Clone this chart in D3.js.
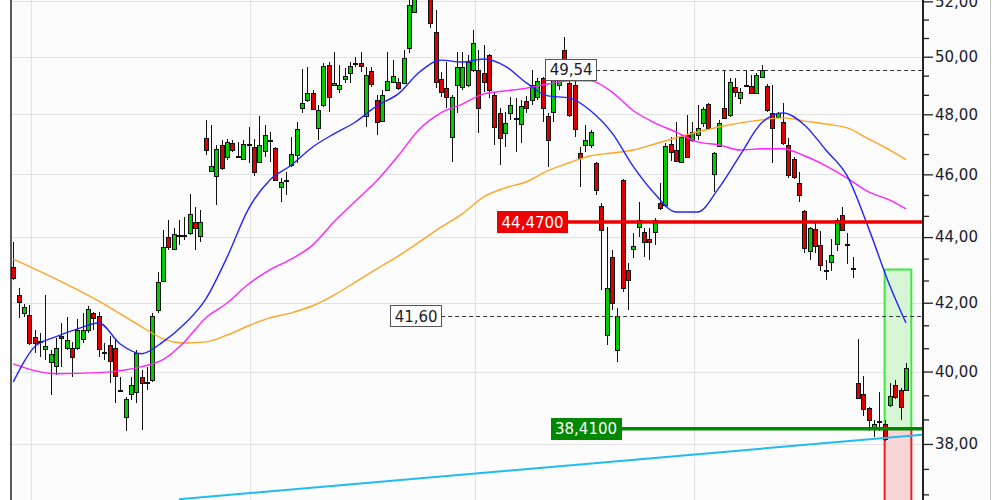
<!DOCTYPE html>
<html><head><meta charset="utf-8">
<script src="https://cdn.jsdelivr.net/npm/d3@7"></script>
<style>html,body{margin:0;padding:0;background:#fff;}svg{display:block;}</style>
</head><body>
<svg id="chart" width="1000" height="500"></svg>
<script>
// ---------- DATA ----------
const opens = [
43.08,42.23,41.69,41.64,41.00,40.89,40.65,40.28,40.16,41.03,
40.68,40.68,40.68,40.94,41.20,41.70,41.61,40.56,40.77,40.68,
39.49,38.74,39.38,39.43,39.85,39.71,39.77,41.79,42.65,44.00,
43.63,44.06,44.06,44.12,44.48,44.03,47.21,46.12,45.95,46.97,
46.57,47.04,46.61,46.51,47.00,46.90,46.41,46.77,47.14,46.87,
45.60,45.82,46.32,46.64,48.22,48.49,48.73,47.54,48.32,49.70,
49.01,48.87,49.22,49.43,49.78,49.78,47.94,49.49,48.49,47.77,
48.83,49.11,49.11,49.08,50.31,51.61,52.40,52.80,52.40,50.88,
49.22,48.90,47.24,49.01,48.94,49.01,49.53,49.53,49.43,50.06,
48.66,48.05,47.37,48.05,47.88,47.67,48.46,48.49,48.59,49.25,
47.94,48.08,49.01,50.24,49.08,49.01,46.70,46.97,46.97,46.38,
44.98,41.05,43.38,40.62,45.82,42.99,43.63,44.31,44.16,43.94,
44.16,45.08,45.01,47.00,46.80,46.41,47.30,47.14,47.30,47.71,
48.35,46.02,46.93,48.22,47.98,48.94,48.56,49.01,48.97,48.73,
49.29,48.97,48.05,47.91,47.74,46.97,46.51,45.72,44.83,43.57,
44.25,43.75,42.99,43.23,43.78,44.70,43.78,43.05,39.69,39.38,
38.99,38.45,38.63,38.53,39.07,39.63,39.49,39.49];
const highs = [
43.86,42.44,41.96,41.94,41.20,41.11,42.23,40.62,40.97,41.40,
41.58,40.85,41.52,41.70,41.91,41.73,41.73,40.82,41.03,40.91,
39.85,39.29,39.85,40.62,40.05,40.14,41.70,42.93,44.22,44.54,
44.28,44.54,44.64,45.37,44.95,44.86,47.81,47.64,46.97,47.14,
47.17,47.14,47.07,47.14,47.57,47.17,47.94,47.64,47.40,46.90,
45.88,46.09,47.24,47.74,49.56,49.63,48.83,48.32,49.78,49.81,
50.17,49.70,49.60,49.81,49.99,50.17,49.63,49.63,48.66,48.83,
50.17,49.88,49.25,50.24,52.10,52.50,53.10,53.20,52.60,51.68,
49.46,49.81,48.66,50.17,50.17,50.06,50.95,50.24,50.42,50.10,
48.76,48.22,48.08,48.59,48.56,48.49,48.63,49.53,49.25,49.29,
48.05,49.46,49.53,50.70,49.25,49.18,46.90,47.64,47.47,46.41,
45.08,44.31,43.60,41.85,45.85,43.20,44.12,45.11,44.28,44.28,
44.61,45.72,47.04,47.24,47.74,47.30,47.98,47.74,48.32,48.25,
48.39,46.74,47.81,49.53,49.25,49.25,48.90,49.53,49.36,49.43,
49.70,49.04,49.01,48.08,48.39,47.21,46.57,46.09,44.86,44.31,
44.44,44.19,43.29,43.94,44.61,44.95,44.12,43.38,40.94,39.88,
39.01,38.66,39.43,38.66,39.69,39.77,39.54,40.25];
const lows = [
42.68,41.55,41.58,40.77,40.53,40.42,40.34,39.35,39.91,40.14,
40.62,39.85,40.62,40.82,41.11,41.20,40.42,40.34,39.69,39.13,
39.43,38.34,39.21,39.13,38.39,39.49,39.71,41.70,42.62,43.60,
43.60,43.75,43.91,44.06,43.60,43.85,46.64,46.09,45.01,46.15,
46.48,46.74,46.54,46.48,46.38,45.95,46.38,46.57,46.41,45.79,
45.11,45.34,46.25,46.38,48.05,48.42,48.15,47.14,48.25,48.08,
48.97,48.73,49.08,49.08,49.63,49.46,47.57,48.94,47.30,47.74,
48.80,49.08,48.83,49.06,50.13,51.57,52.20,52.15,51.03,48.90,
48.59,48.22,46.41,48.05,48.83,48.94,49.46,47.37,48.76,48.56,
46.97,46.32,46.90,47.81,46.74,47.04,48.05,48.32,48.49,47.74,
46.25,47.74,48.83,49.18,47.91,47.24,45.60,46.74,46.87,45.34,
42.38,40.77,41.79,40.28,42.32,41.79,43.35,44.00,43.38,43.29,
43.75,44.86,44.95,46.45,46.41,46.38,46.54,47.07,47.14,47.57,
47.47,45.43,46.90,47.86,47.91,48.59,48.35,48.94,48.71,48.70,
49.27,48.08,46.38,47.88,46.97,45.88,45.85,45.11,43.51,43.29,
43.51,42.96,42.68,42.96,43.57,44.19,43.17,42.74,39.25,38.77,
38.34,38.20,38.34,38.09,39.01,39.24,38.66,39.46];
const closes = [
42.73,42.03,41.88,40.82,40.82,40.87,40.74,40.51,40.68,40.97,
40.91,40.42,41.20,41.20,41.82,41.55,40.65,40.56,40.31,39.88,
39.49,39.24,39.63,40.53,39.69,39.71,41.61,42.62,43.69,43.69,
44.09,44.06,44.06,44.73,44.28,44.48,46.80,46.28,46.83,46.22,
47.07,46.80,46.61,47.00,47.00,46.09,46.97,47.30,47.14,45.82,
45.76,45.82,46.67,47.50,48.39,48.73,48.18,48.15,49.67,48.59,
49.07,49.01,49.32,49.67,49.78,49.67,49.36,49.04,47.74,48.66,
49.15,49.32,48.90,49.95,51.86,52.30,52.80,52.30,51.21,49.11,
48.76,48.59,48.59,49.63,49.63,49.81,50.49,48.22,49.11,48.83,
47.57,47.21,47.71,48.32,47.88,48.29,48.22,49.01,49.15,48.22,
47.14,49.18,49.36,49.36,47.98,47.50,46.54,47.14,47.40,45.50,
44.22,42.44,41.99,41.61,42.44,42.68,43.72,44.54,43.85,43.85,
44.54,44.92,46.93,46.74,46.45,47.24,46.57,47.40,47.54,48.18,
47.54,46.70,47.71,47.88,49.11,48.76,48.76,49.01,48.73,49.36,
49.53,48.15,47.54,48.05,47.04,45.98,45.92,45.34,43.66,44.28,
43.72,43.14,42.99,43.44,44.54,44.22,43.78,43.05,39.27,38.96,
38.66,38.53,38.63,38.12,39.32,39.29,39.01,40.11];

// moving averages (sample index -> value)
const blueIdx = [0,4,8,12,16,20,24,28,32,36,40,44,48,52,56,60,64,68,72,76,80,84,88,92,96,100,104,108,112,116,120,124,128,132,136,140,144,148,152,156,160,164,167];
const blueVals = [39.71,40.71,41.00,41.23,41.40,40.79,40.51,40.85,41.37,42.11,43.38,44.89,45.82,46.30,46.90,47.34,47.74,48.29,48.70,49.46,49.88,49.81,49.92,49.67,49.08,48.63,48.56,48.12,47.37,46.25,45.37,44.79,44.79,45.56,46.64,47.71,48.05,47.64,46.80,45.95,44.28,42.50,41.40];
const slowIdx = [0,8,16,24,28,32,36,40,44,48,52,56,60,64,68,72,76,80,84,88,92,96,100,104,108,112,116,120,124,128,132,136,140,144,148,152,156,160,164,167];
const magentaVals = [40.22,39.94,39.97,40.14,40.34,40.85,41.55,41.99,42.56,42.99,43.32,43.75,44.48,45.14,45.79,46.61,47.50,48.05,48.35,48.70,48.80,48.90,49.04,49.15,49.15,48.76,48.12,47.71,47.40,47.07,46.97,46.80,46.84,46.84,46.61,46.28,45.88,45.43,45.17,44.89];
const orangeVals = [43.32,42.71,42.05,41.29,40.94,40.82,40.85,41.05,41.32,41.55,41.70,41.91,42.23,42.62,43.02,43.41,43.85,44.31,44.73,45.27,45.56,45.76,46.12,46.38,46.61,46.70,46.80,47.00,47.21,47.40,47.57,47.71,47.81,47.88,47.77,47.67,47.54,47.17,46.80,46.48];

// trend line (two anchor points)
const trendIdx = [31, 170];
const trendVals = [36.54, 38.25];

// horizontal levels
const resistanceLevel = 44.47, resistanceIdx = 91;
const supportLevel = 38.41, supportIdx = 101;
const dashLevels = [49.54, 41.60];
const dashIdx = [100, 71];

// target / stop box
const boxIdx = [163, 168];
const boxTarget = 43.00, boxStop = 36.00;

// axis ticks
const majorTicks = [38, 40, 42, 44, 46, 48, 50, 52];
const gridIdx = [3, 44, 86, 127];

// ---------- DRAW ----------
const svg = d3.select('#chart');
const plotL = 11, plotR = 923, H = 500;
const x = d3.scaleLinear().domain([0, 167]).range([13.3, 906]);
const step = x(1) - x(0);
const y = d3.scaleLog().domain([36.52, 52.05]).range([H, 0]);
const fmt2 = v => v.toFixed(2).replace('.', ',');
const fmt4 = v => v.toFixed(4).replace('.', ',');
const FONT = 'DejaVu Sans, Verdana, sans-serif';

svg.append('rect').attr('width', 1000).attr('height', H).attr('fill', '#ffffff');
svg.append('rect').attr('x', plotL).attr('width', 990 - plotL).attr('height', H).attr('fill', '#fbfcfb');
svg.append('line').attr('x1', 990.5).attr('x2', 990.5).attr('y1', 0).attr('y2', H)
  .attr('stroke', '#c4c4c4').attr('stroke-width', 1);

svg.append('defs').append('clipPath').attr('id', 'clip')
  .append('rect').attr('x', plotL).attr('y', 0).attr('width', plotR - plotL).attr('height', H);
const plot = svg.append('g').attr('clip-path', 'url(#clip)');

// grid
plot.append('g').selectAll('line').data(majorTicks).join('line')
  .attr('x1', plotL).attr('x2', plotR)
  .attr('y1', d => Math.round(y(d)) + 0.5).attr('y2', d => Math.round(y(d)) + 0.5)
  .attr('stroke', '#e2e2e2').attr('stroke-width', 1);
plot.append('g').selectAll('line').data(gridIdx).join('line')
  .attr('x1', d => Math.round(x(d) + 0.3 * step) + 0.5).attr('x2', d => Math.round(x(d) + 0.3 * step) + 0.5)
  .attr('y1', 0).attr('y2', H)
  .attr('stroke', '#e2e2e2').attr('stroke-width', 1);

// target / stop boxes
const bx0 = x(boxIdx[0]), bx1 = x(boxIdx[1]);
plot.append('rect').attr('x', bx0).attr('width', bx1 - bx0)
  .attr('y', y(boxTarget)).attr('height', y(supportLevel) - y(boxTarget))
  .attr('fill', '#d6f6d6').attr('stroke', '#3ee83e').attr('stroke-width', 2);
plot.append('rect').attr('x', bx0).attr('width', bx1 - bx0)
  .attr('y', y(supportLevel)).attr('height', y(boxStop) - y(supportLevel))
  .attr('fill', '#f9d6d6').attr('stroke', '#ee2020').attr('stroke-width', 2);

// candles
const idx = d3.range(opens.length);
const cg = plot.append('g').attr('shape-rendering', 'crispEdges');
cg.selectAll('line').data(idx).join('line')
  .attr('x1', i => Math.round(x(i)) + 0.5).attr('x2', i => Math.round(x(i)) + 0.5)
  .attr('y1', i => Math.round(y(highs[i]))).attr('y2', i => Math.round(y(lows[i])))
  .attr('stroke', '#111').attr('stroke-width', 1);
cg.selectAll('rect').data(idx).join('rect')
  .attr('x', i => Math.round(x(i)) - 1.5)
  .attr('width', 4)
  .attr('y', i => Math.round(y(Math.max(opens[i], closes[i]))) + 0.5)
  .attr('height', i => Math.max(1, Math.round(y(Math.min(opens[i], closes[i]))) - Math.round(y(Math.max(opens[i], closes[i])))))
  .attr('fill', i => closes[i] > opens[i] ? '#00cc00' : (closes[i] < opens[i] ? '#dd0000' : '#111'))
  .attr('stroke', '#111').attr('stroke-width', 1);

// moving averages
const line = d3.line().x(d => x(d[0])).y(d => y(d[1])).curve(d3.curveMonotoneX);
plot.append('path').attr('d', line(slowIdx.map((d, i) => [d, orangeVals[i]])))
  .attr('fill', 'none').attr('stroke', '#ffa424').attr('stroke-width', 1.4);
plot.append('path').attr('d', line(slowIdx.map((d, i) => [d, magentaVals[i]])))
  .attr('fill', 'none').attr('stroke', '#ff24ff').attr('stroke-width', 1.4);
plot.append('path').attr('d', line(blueIdx.map((d, i) => [d, blueVals[i]])))
  .attr('fill', 'none').attr('stroke', '#2424ff').attr('stroke-width', 1.4);

// trend line
plot.append('line')
  .attr('x1', x(trendIdx[0])).attr('y1', y(trendVals[0]))
  .attr('x2', x(trendIdx[1])).attr('y2', y(trendVals[1]))
  .attr('stroke', '#22bbf0').attr('stroke-width', 2);

// labelled levels
function tag(level, anchor, text, bg, border, color) {
  const g = plot.append('g');
  const t = g.append('text').text(text)
    .attr('font-family', FONT).attr('font-size', 15).attr('fill', color)
    .attr('dominant-baseline', 'central');
  const w = t.node().getComputedTextLength();
  const left = x(anchor) - step / 2;
  const cy = y(level);
  g.insert('rect', 'text').attr('x', Math.round(left) + 0.5).attr('y', Math.round(cy - 11) + 0.5)
    .attr('width', Math.round(w + 8)).attr('height', 21)
    .attr('fill', bg).attr('stroke', border).attr('stroke-width', 1);
  t.attr('x', left + 4 + 0.5).attr('y', cy + 0.5);
  return left + w + 8;
}
dashLevels.forEach((lv, i) => {
  const right = tag(lv, dashIdx[i], fmt2(lv), '#ffffff', '#555555', '#1a1a2a');
  plot.insert('line', 'g:last-of-type').attr('x1', right).attr('x2', plotR)
    .attr('y1', Math.round(y(lv)) + 0.5).attr('y2', Math.round(y(lv)) + 0.5)
    .attr('stroke', '#333').attr('stroke-width', 1).attr('stroke-dasharray', '4,3');
});
{
  const yr = y(resistanceLevel);
  plot.append('line').attr('x1', x(resistanceIdx)).attr('x2', plotR).attr('y1', yr).attr('y2', yr)
    .attr('stroke', '#ee0000').attr('stroke-width', 3.5);
  tag(resistanceLevel, resistanceIdx, fmt4(resistanceLevel), '#ee0000', '#ee0000', '#ffffff');
  const ys = y(supportLevel);
  plot.append('line').attr('x1', x(supportIdx)).attr('x2', plotR).attr('y1', ys).attr('y2', ys)
    .attr('stroke', '#008800').attr('stroke-width', 3.5);
  tag(supportLevel, supportIdx, fmt4(supportLevel), '#008800', '#008800', '#ffffff');
}

// left border
svg.append('line').attr('x1', plotL).attr('x2', plotL).attr('y1', 0).attr('y2', H)
  .attr('stroke', '#222').attr('stroke-width', 1.5);

// right axis
const minorTicks = [];
for (let k = 36; k <= 52; k += 2) { minorTicks.push(k + 2 / 3, k + 4 / 3); }
const minorIn = minorTicks.filter(v => v > 36.52 && v < 52.05);
const axG = svg.append('g').attr('transform', `translate(${plotR},0)`);
axG.call(d3.axisRight(y).tickValues(majorTicks).tickFormat(fmt2).tickSize(10).tickPadding(2));
axG.append('g').call(d3.axisRight(y).tickValues(minorIn).tickFormat('').tickSize(6));
axG.selectAll('.domain').attr('stroke', '#222').attr('stroke-width', 2);
axG.selectAll('.tick line').attr('stroke', '#222').attr('stroke-width', 1.3);
axG.selectAll('.tick text').attr('font-family', FONT).attr('font-size', 15).attr('fill', '#1a1a2e');
axG.selectAll('.domain').attr('d', `M0,0V${H}`);
</script>
</body></html>
